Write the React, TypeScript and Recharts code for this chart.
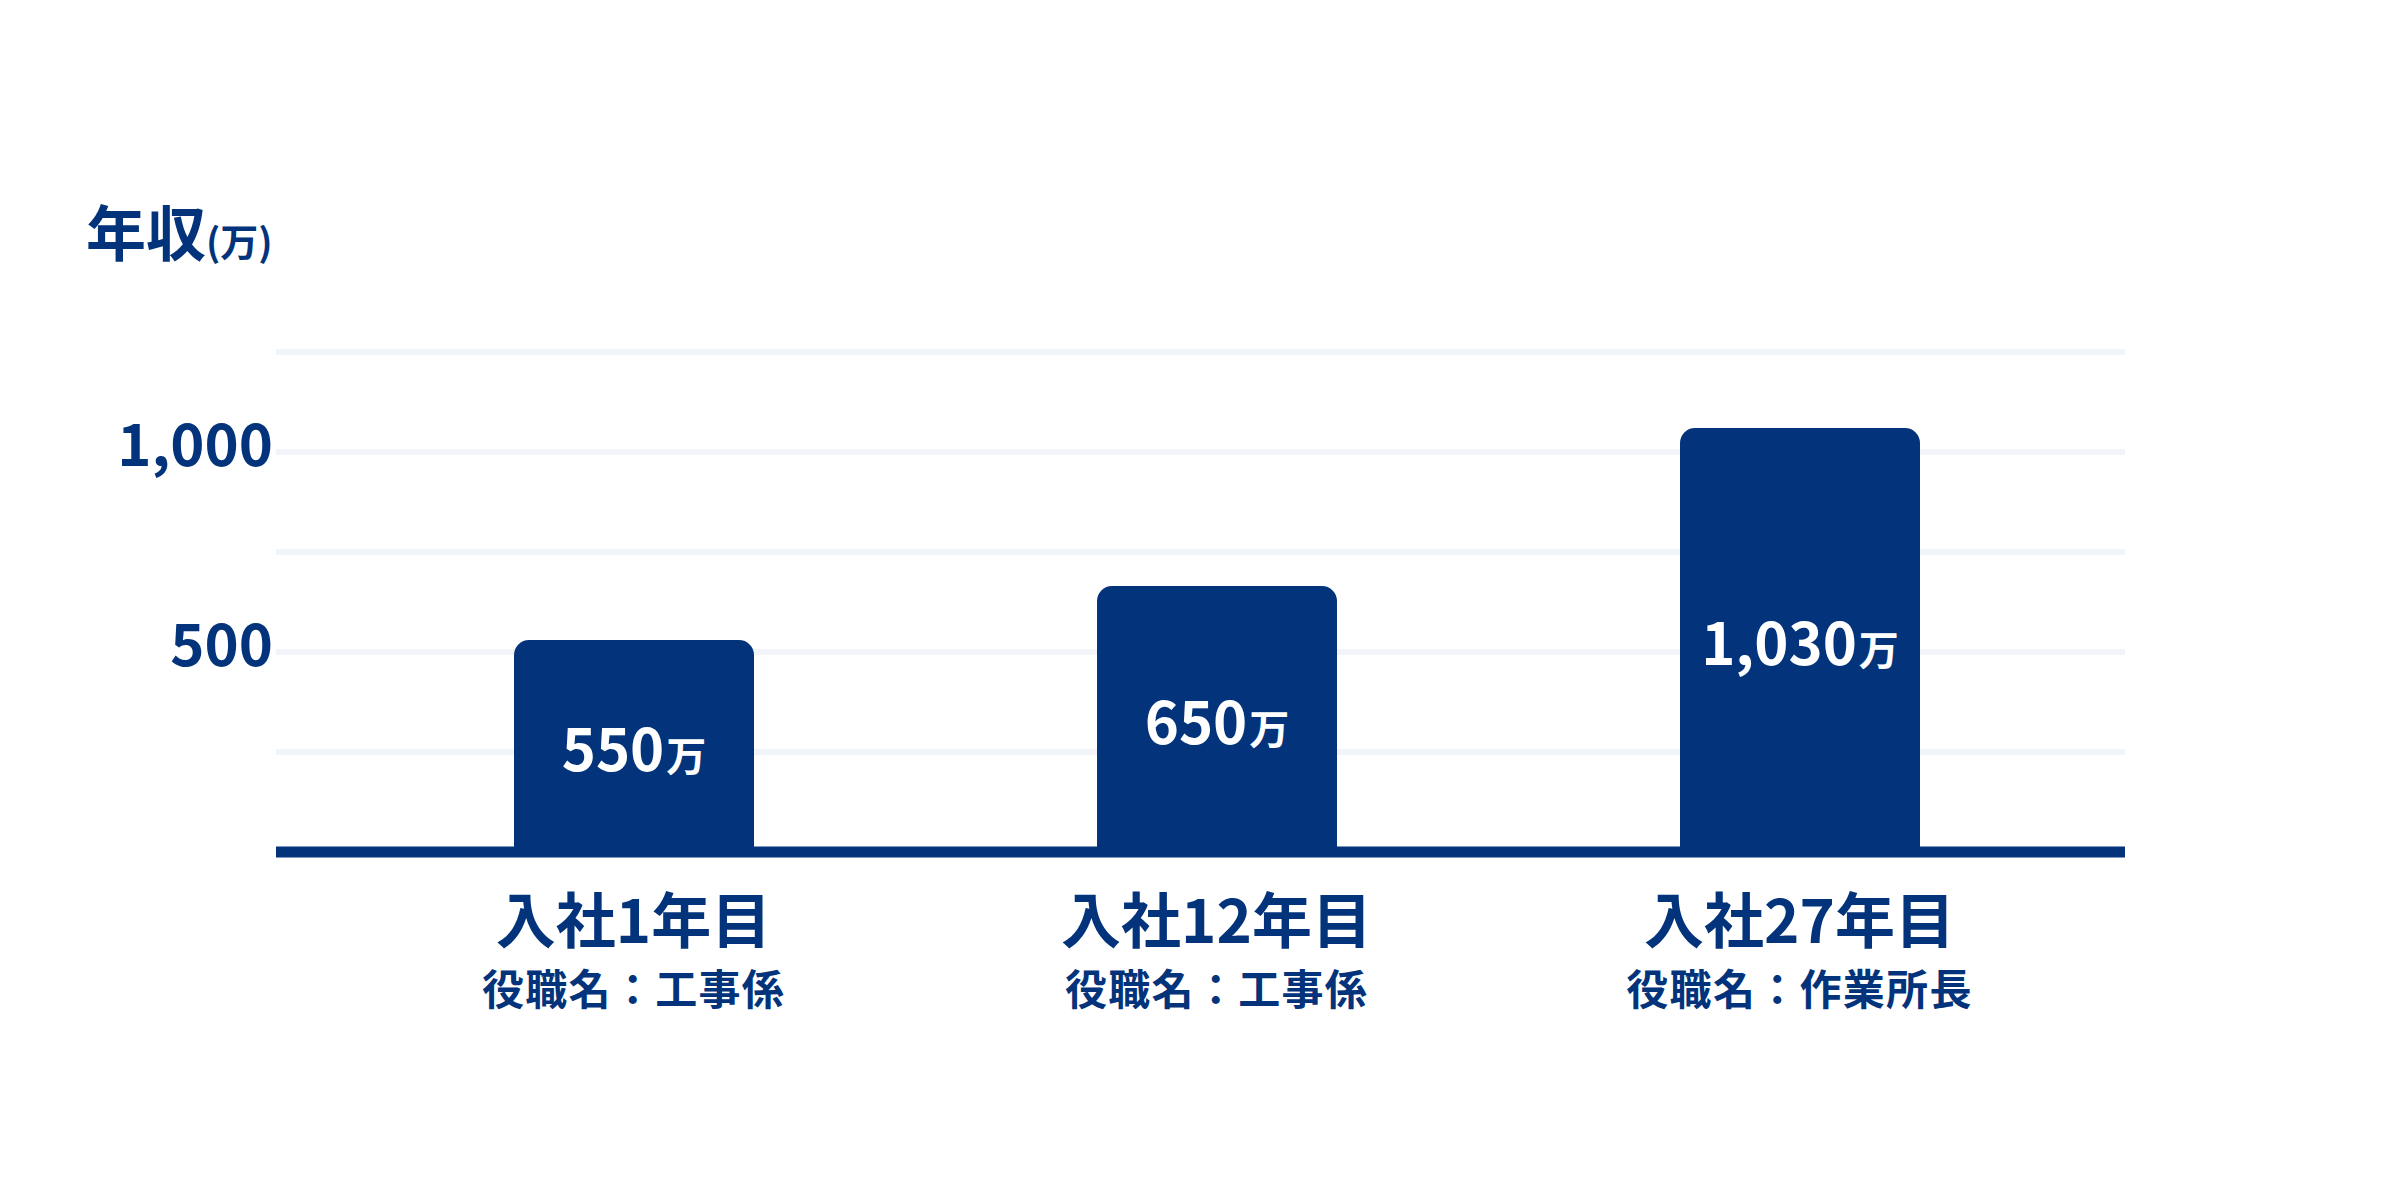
import React from 'react'
import {
    BarChart,
    Bar,
    XAxis,
    YAxis,
    CartesianGrid,
    LabelList
} from 'recharts'

const years = ['入社1年目', '入社12年目', '入社27年目']
const positions = ['役職名：工事係', '役職名：工事係', '役職名：作業所長']
// numbers printed inside the bars
const salaries = [550, 650, 1030]
// bar heights as drawn in the picture
const barHeights = [530, 665, 1060]
const gridTicks = [0, 250, 500, 750, 1000, 1250]
const labeledTicks = [500, 1000]

const NAVY = '#03337b'
const FONT = "'Noto Sans CJK JP', 'Noto Sans', sans-serif"

const data = years.map((year, i) => ({
    name: year,
    value: barHeights[i],
    salary: salaries[i]
}))

const YTick = (props: any) => {
    const { x, y, payload } = props
    if (!labeledTicks.includes(payload.value)) return null
    return (
        <text
        x={x}
        y={y + 14}
        textAnchor="end"
        fontSize={58}
        fontWeight={700}
        fontFamily={FONT}
        fill={NAVY}
        >
            {payload.value.toLocaleString('en-US')}
        </text>
    )
}

const XTick = (props: any) => {
    const { x, y, payload } = props
    return (
        <g>
            <text
            x={x}
            y={y + 91}
            textAnchor="middle"
            fontSize={60}
            fontWeight={700}
            fontFamily={FONT}
            fill={NAVY}
            >
                {payload.value}
            </text>
            <text
            x={x}
            y={y + 153}
            textAnchor="middle"
            fontSize={42}
            fontWeight={700}
            letterSpacing={1.3}
            fontFamily={FONT}
            fill={NAVY}
            >
                {positions[payload.index]}
            </text>
        </g>
    )
}

const BarValue = (props: any) => {
    const { x, y, width, height, index } = props
    return (
        <text
        x={x + width / 2}
        y={y + height / 2 + 25}
        textAnchor="middle"
        fontWeight={700}
        fontFamily={FONT}
        fill="#ffffff"
        >
            <tspan fontSize={58}>{salaries[index].toLocaleString('en-US')}</tspan>
            <tspan fontSize={40} dx={2}>万</tspan>
        </text>
    )
}

export default function App() {
  return (
    <div style={{ position: 'absolute', left: 0, top: 0, width: 2400, height: 1200, background: '#fff' }}>
        <BarChart
        width={2400}
        height={1200}
        data={data}
        margin={{ top: 352, right: 275, bottom: 148, left: 0 }}
        >
            <CartesianGrid
            vertical={false}
            stroke="#f1f4f8"
            strokeWidth={6}
            />

            <YAxis
            width={276}
            domain={[0, 1250]}
            ticks={gridTicks}
            interval={0}
            axisLine={false}
            tickLine={false}
            tickSize={0}
            tickMargin={3}
            tick={<YTick />}
            />

            <XAxis
            dataKey="name"
            height={200}
            padding={{ left: 66, right: 34 }}
            axisLine={{ stroke: NAVY, strokeWidth: 11 }}
            tickLine={false}
            tickSize={0}
            tickMargin={0}
            interval={0}
            tick={<XTick />}
            />

            <Bar
            dataKey="value"
            fill={NAVY}
            barSize={240}
            radius={[15, 15, 0, 0]}
            isAnimationActive={false}
            >
                <LabelList dataKey="salary" content={<BarValue />} />
            </Bar>
        </BarChart>

        <svg
        width={2400}
        height={1200}
        style={{ position: 'absolute', left: 0, top: 0, pointerEvents: 'none' }}
        >
            <text
            x={86}
            y={256}
            fontSize={60}
            fontWeight={700}
            fontFamily={FONT}
            fill={NAVY}
            >
                年収<tspan fontSize={38}>(万)</tspan>
            </text>
        </svg>
    </div>
  )
}
